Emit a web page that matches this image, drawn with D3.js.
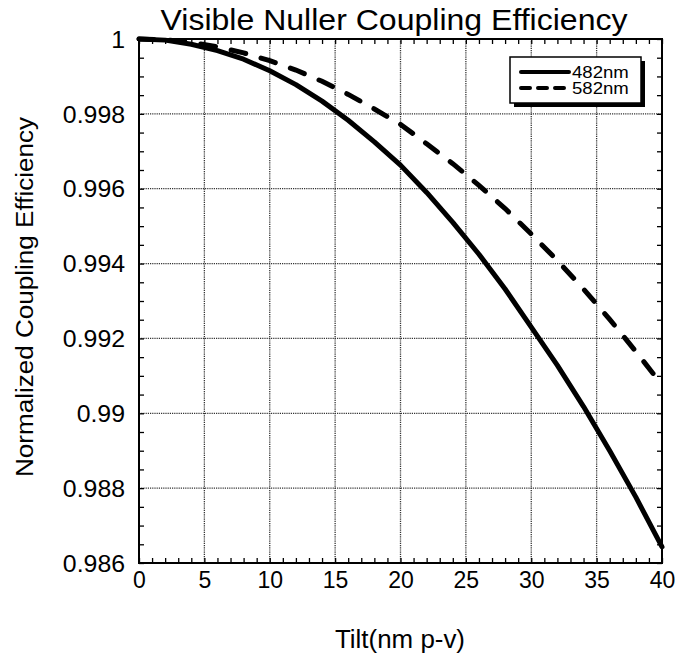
<!DOCTYPE html>
<html lang="en">
<head>
<meta charset="UTF-8">
<title>Visible Nuller Coupling Efficiency</title>
<script src="https://d3js.org/d3.v7.min.js"></script>
<style>
  body { margin: 0; background: #fff; }
  text { font-family: "Liberation Sans", Arial, sans-serif; fill: #000; }
</style>
</head>
<body>
<svg id="chart" width="685" height="656"></svg>
<script>
// tilt (nm p-v)
const tilt = [0, 2, 4, 6, 8, 10, 12, 14, 16, 18, 20, 22, 24, 26, 28, 30, 32, 34, 36, 38, 40];
// normalized coupling efficiency
const eff482 = [1.0, 0.99997, 0.99986, 0.99969, 0.99946, 0.99915, 0.99878, 0.99834, 0.99783, 0.99725,
                0.99663, 0.99590, 0.99510, 0.99425, 0.99332, 0.99230, 0.99128, 0.99018, 0.98900, 0.98776, 0.98643];
const eff582 = [1.0, 0.99998, 0.99991, 0.99979, 0.99963, 0.99942, 0.99917, 0.99887, 0.99852, 0.99813,
                0.99772, 0.99720, 0.99667, 0.99609, 0.99547, 0.99479, 0.99408, 0.99332, 0.99251, 0.99165, 0.99076];
const seriesNames = ['482nm', '582nm'];
const xTicks = [0, 5, 10, 15, 20, 25, 30, 35, 40];
const yTicks = [0.986, 0.988, 0.99, 0.992, 0.994, 0.996, 0.998, 1];

const svg = d3.select('#chart');
const margin = { top: 39, left: 139, right: 23, bottom: 93 };
const width = +svg.attr('width'), height = +svg.attr('height');
const innerW = width - margin.left - margin.right;
const innerH = height - margin.top - margin.bottom;

const x = d3.scaleLinear().domain([0, 40]).range([0, innerW]);
const y = d3.scaleLinear().domain([0.986, 1]).range([innerH, 0]);

// the original lettering is a bit wider than Liberation Sans
function widen(sel, k) {
  sel.each(function () {
    const w = this.getComputedTextLength();
    d3.select(this).attr('textLength', w * k).attr('lengthAdjust', 'spacingAndGlyphs');
  });
}

const g = svg.append('g').attr('transform', `translate(${margin.left},${margin.top})`);

// dotted grid
g.append('g').selectAll('line').data(xTicks.slice(1, -1)).join('line')
  .attr('x1', d => x(d)).attr('x2', d => x(d)).attr('y1', 0).attr('y2', innerH)
  .attr('stroke', '#333').attr('stroke-width', 1.3).attr('stroke-dasharray', '1.2,1');
g.append('g').selectAll('line').data(yTicks.slice(1, -1)).join('line')
  .attr('y1', d => y(d)).attr('y2', d => y(d)).attr('x1', 0).attr('x2', innerW)
  .attr('stroke', '#333').attr('stroke-width', 1.3).attr('stroke-dasharray', '1.2,1');

// inward ticks on all four sides
const minorX = d3.range(0, 41, 1);
const minorY = d3.range(0, 29).map(i => 0.986 + i * 0.0005);
function ticksOn(axis, vals, size) {
  return axis.tickValues(vals).tickSize(size).tickFormat('');
}
const tickStyle = sel => { sel.select('.domain').remove(); sel.selectAll('line').attr('stroke', '#000').attr('stroke-width', 1.3); };
g.append('g').attr('transform', `translate(0,${innerH})`).call(ticksOn(d3.axisTop(x), minorX, 5)).call(tickStyle);
g.append('g').call(ticksOn(d3.axisBottom(x), minorX, 5)).call(tickStyle);
g.append('g').call(ticksOn(d3.axisRight(y), minorY, 5)).call(tickStyle);
g.append('g').attr('transform', `translate(${innerW},0)`).call(ticksOn(d3.axisLeft(y), minorY, 5)).call(tickStyle);

// tick labels
const xAx = g.append('g').attr('transform', `translate(0,${innerH})`)
  .call(d3.axisBottom(x).tickValues(xTicks).tickSize(0).tickPadding(8).tickFormat(d3.format('d')));
xAx.select('.domain').remove();
xAx.selectAll('text').style('font-size', '23px').attr('dy', '0.72em');

const yAx = g.append('g')
  .call(d3.axisLeft(y).tickValues(yTicks).tickSize(0).tickPadding(14).tickFormat(d => +d.toFixed(3)));
yAx.select('.domain').remove();
yAx.selectAll('text').style('font-size', '23px').attr('dy', '0.36em').call(widen, 1.08);

// frame
g.append('rect').attr('width', innerW).attr('height', innerH)
  .attr('fill', 'none').attr('stroke', '#000').attr('stroke-width', 2);

// curves
const rows = tilt.map((t, i) => ({ t, a: eff482[i], b: eff582[i] }));
const lineA = d3.line().x(d => x(d.t)).y(d => y(d.a));
const lineB = d3.line().x(d => x(d.t)).y(d => y(d.b));
g.append('path').datum(rows).attr('d', lineB)
  .attr('fill', 'none').attr('stroke', '#000').attr('stroke-width', 5)
  .attr('stroke-linecap', 'round').attr('stroke-dasharray', '15,16');
g.append('path').datum(rows).attr('d', lineA)
  .attr('fill', 'none').attr('stroke', '#000').attr('stroke-width', 5)
  .attr('stroke-linecap', 'round').attr('stroke-linejoin', 'round');

// legend
const lg = svg.append('g').attr('transform', 'translate(510,57)');
lg.append('rect').attr('x', 4).attr('y', 4).attr('width', 131).attr('height', 46).attr('fill', '#000');
lg.append('rect').attr('width', 131).attr('height', 46).attr('fill', '#fff').attr('stroke', '#000').attr('stroke-width', 1.5);
seriesNames.forEach((name, i) => {
  const yy = 15 + i * 16;
  lg.append('line').attr('x1', 11).attr('x2', 59).attr('y1', yy).attr('y2', yy)
    .attr('stroke', '#000').attr('stroke-width', 4).attr('stroke-linecap', 'round')
    .attr('stroke-dasharray', i === 0 ? null : '9,8');
  lg.append('text').attr('x', 62).attr('y', yy).attr('dy', '0.36em')
    .style('font-size', '16px').text(name).call(widen, 1.16);
});

// titles
svg.append('text').attr('x', 394).attr('y', 30).attr('text-anchor', 'middle')
  .style('font-size', '29px').text('Visible Nuller Coupling Efficiency')
  .attr('textLength', 467).attr('lengthAdjust', 'spacingAndGlyphs');
svg.append('text').attr('x', 400).attr('y', 648).attr('text-anchor', 'middle')
  .style('font-size', '25px').text('Tilt(nm p-v)')
  .attr('textLength', 130).attr('lengthAdjust', 'spacingAndGlyphs');
svg.append('text').attr('transform', 'translate(32.5,297) rotate(-90)').attr('text-anchor', 'middle')
  .style('font-size', '23px').text('Normalized Coupling Efficiency')
  .attr('textLength', 360).attr('lengthAdjust', 'spacingAndGlyphs');
</script>
</body>
</html>
